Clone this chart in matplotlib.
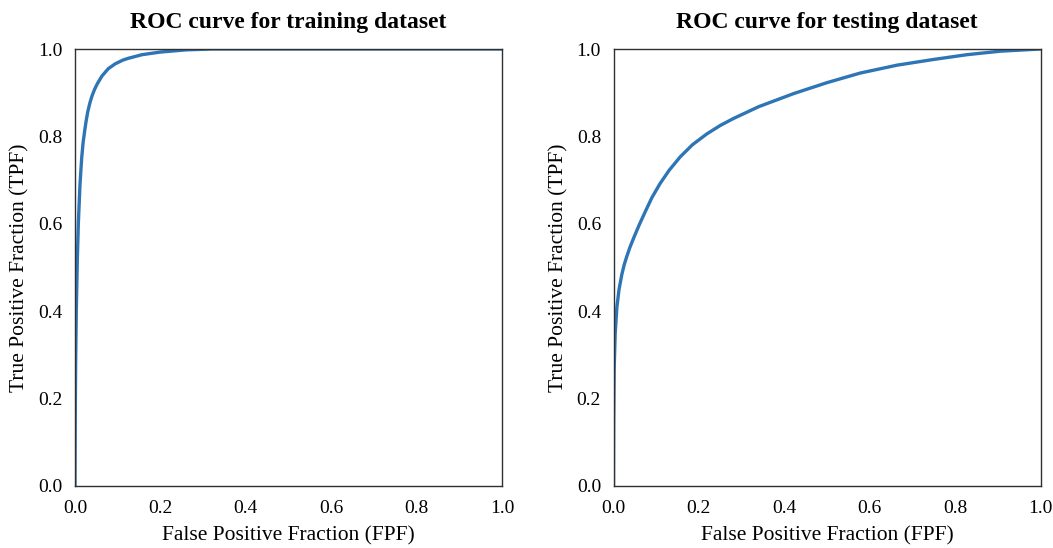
import matplotlib.pyplot as plt

plt.rcParams['font.family'] = ['Liberation Serif', 'DejaVu Serif']

# ROC points (training set)
train_fpf = [0, 0.0002, 0.0005, 0.0015, 0.003, 0.0055, 0.0078, 0.0117, 0.0156, 0.019,
             0.023, 0.026, 0.030, 0.035, 0.040, 0.046, 0.052, 0.063, 0.078, 0.094,
             0.113, 0.126, 0.157, 0.20, 0.26, 0.32, 1.0]
train_tpf = [0, 0.07, 0.15, 0.28, 0.40, 0.52, 0.60, 0.69, 0.75, 0.786,
             0.815, 0.835, 0.857, 0.877, 0.893, 0.908, 0.92, 0.938, 0.955, 0.966,
             0.975, 0.979, 0.987, 0.993, 0.998, 1.0, 1.0]

# ROC points (testing set)
test_fpf = [0, 0.0002, 0.0005, 0.0016, 0.004, 0.008, 0.013, 0.0195, 0.025, 0.03, 0.038,
            0.047, 0.06, 0.074, 0.09, 0.109, 0.13, 0.156, 0.185, 0.219, 0.25, 0.281,
            0.34, 0.422, 0.50, 0.578, 0.664, 0.749, 0.828, 0.906, 1.0]
test_tpf = [0, 0.08, 0.15, 0.27, 0.35, 0.41, 0.45, 0.484, 0.506, 0.522, 0.545,
            0.567, 0.597, 0.627, 0.66, 0.692, 0.722, 0.753, 0.781, 0.806, 0.825, 0.841,
            0.868, 0.898, 0.923, 0.945, 0.963, 0.976, 0.987, 0.995, 1.0]

titles = ['ROC curve for training dataset', 'ROC curve for testing dataset']
ticks = [0.0, 0.2, 0.4, 0.6, 0.8, 1.0]
tick_labels = ['0.0', '0.2', '0.4', '0.6', '0.8', '1.0']

fig = plt.figure(figsize=(10.53, 5.48), dpi=100)
ax1 = fig.add_axes([75 / 1053, 62 / 548, 427 / 1053, 437 / 548])
ax2 = fig.add_axes([613.5 / 1053, 62 / 548, 427 / 1053, 437 / 548])

for ax, x, y, title in [(ax1, train_fpf, train_tpf, titles[0]),
                        (ax2, test_fpf, test_tpf, titles[1])]:
    ax.plot(x, y, color='#2E75B6', linewidth=2.4, solid_joinstyle='round')
    ax.set_xlim(0, 1)
    ax.set_ylim(0, 1)
    ax.set_xticks(ticks)
    ax.set_xticklabels(tick_labels)
    ax.set_yticks(ticks)
    ax.set_yticklabels(tick_labels)
    ax.tick_params(length=0, labelsize=14)
    ax.tick_params(axis='x', pad=10)
    ax.tick_params(axis='y', pad=9)
    for s in ax.spines.values():
        s.set_color('#303030')
        s.set_linewidth(1.0)
    ax.set_title(title, fontsize=17, fontweight='bold', pad=15)
    ax.set_xlabel('False Positive Fraction (FPF)', fontsize=15.5, labelpad=7)
    ax.set_ylabel('True Positive Fraction (TPF)', fontsize=15.5, labelpad=6)

fig.savefig('out.png', dpi=100)
